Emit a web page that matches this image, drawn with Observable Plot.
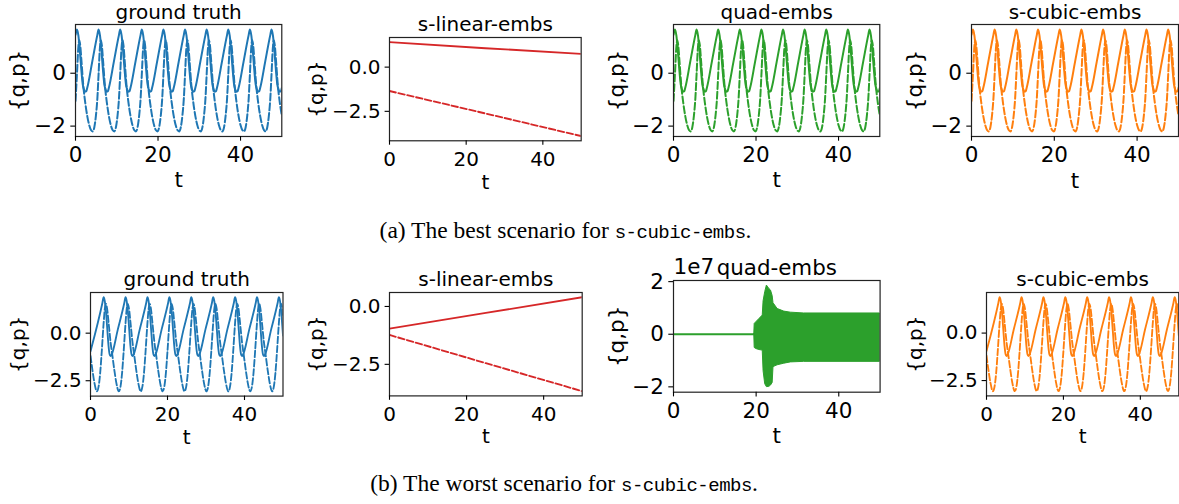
<!DOCTYPE html>
<html><head><meta charset="utf-8">
<script src="https://cdn.jsdelivr.net/npm/d3@7"></script>
<script src="https://cdn.jsdelivr.net/npm/@observablehq/plot@0.6"></script>
<style>
html,body{margin:0;padding:0;background:#fff;overflow:hidden}
#root{position:relative;width:1179px;height:504px;overflow:hidden;background:#fff}
#root svg{position:absolute}
.cap{position:absolute;white-space:nowrap;font-family:"Liberation Serif",serif;font-size:23.5px;line-height:24px;color:#000;transform:translateX(-50%)}
.cap .tt{font-family:"Liberation Mono",monospace;font-size:19px;letter-spacing:-0.5px}
</style></head><body><div id="root"></div>
<script>
// ---------- data ----------
const xTicks = [0, 20, 40];
const yTicksInt = [-2, 0];
const yTicksDec = [-2.5, 0];
const yTicksQuad = [-2, 0, 2];
const titles = ["ground truth", "s-linear-embs", "quad-embs", "s-cubic-embs"];
const quadOffsetLabel = "1e7";

// (a) ground truth q (solid)
const qA_t = [0,
  0.35, 0.70, 1.05, 1.40, 1.75, 2.05, 2.30, 2.60, 2.85, 4.05, 5.30,
  5.59, 5.94, 6.29, 6.64, 6.99, 7.29, 7.54, 7.84, 8.09, 9.29, 10.54,
  10.83, 11.18, 11.53, 11.88, 12.23, 12.53, 12.78, 13.08, 13.33, 14.53, 15.78,
  16.07, 16.42, 16.77, 17.12, 17.47, 17.77, 18.02, 18.32, 18.57, 19.77, 21.02,
  21.31, 21.66, 22.01, 22.36, 22.71, 23.01, 23.26, 23.56, 23.81, 25.01, 26.26,
  26.55, 26.90, 27.25, 27.60, 27.95, 28.25, 28.50, 28.80, 29.05, 30.25, 31.50,
  31.79, 32.14, 32.49, 32.84, 33.19, 33.49, 33.74, 34.04, 34.29, 35.49, 36.74,
  37.03, 37.38, 37.73, 38.08, 38.43, 38.73, 38.98, 39.28, 39.53, 40.73, 41.98,
  42.27, 42.62, 42.97, 43.32, 43.67, 43.97, 44.22, 44.52, 44.77, 45.97, 47.22,
  47.51, 47.86, 48.21, 48.56, 48.91, 49.21, 49.46, 49.76, 50.00];
const qA = [1.45,
  1.65, 1.42, 0.85, 0.15, -0.42, -0.62, -0.70, -0.68, -0.55, 0.43, 1.45,
  1.65, 1.42, 0.85, 0.15, -0.42, -0.62, -0.70, -0.68, -0.55, 0.43, 1.45,
  1.65, 1.42, 0.85, 0.15, -0.42, -0.62, -0.70, -0.68, -0.55, 0.43, 1.45,
  1.65, 1.42, 0.85, 0.15, -0.42, -0.62, -0.70, -0.68, -0.55, 0.43, 1.45,
  1.65, 1.42, 0.85, 0.15, -0.42, -0.62, -0.70, -0.68, -0.55, 0.43, 1.45,
  1.65, 1.42, 0.85, 0.15, -0.42, -0.62, -0.70, -0.68, -0.55, 0.43, 1.45,
  1.65, 1.42, 0.85, 0.15, -0.42, -0.62, -0.70, -0.68, -0.55, 0.43, 1.45,
  1.65, 1.42, 0.85, 0.15, -0.42, -0.62, -0.70, -0.68, -0.55, 0.43, 1.45,
  1.65, 1.42, 0.85, 0.15, -0.42, -0.62, -0.70, -0.68, -0.55, 0.43, 1.45,
  1.65, 1.42, 0.85, 0.15, -0.42, -0.62, -0.70, -0.68, -0.56];

// (a) ground truth p (dashed)
const pA_t = [0,
  0.35, 0.65, 0.90, 1.15, 1.45, 1.85, 2.35, 2.85, 3.35, 3.75, 4.15, 4.55, 4.95, 5.30,
  5.59, 5.89, 6.14, 6.39, 6.69, 7.09, 7.59, 8.09, 8.59, 8.99, 9.39, 9.79, 10.19, 10.54,
  10.83, 11.13, 11.38, 11.63, 11.93, 12.33, 12.83, 13.33, 13.83, 14.23, 14.63, 15.03, 15.43, 15.78,
  16.07, 16.37, 16.62, 16.87, 17.17, 17.57, 18.07, 18.57, 19.07, 19.47, 19.87, 20.27, 20.67, 21.02,
  21.31, 21.61, 21.86, 22.11, 22.41, 22.81, 23.31, 23.81, 24.31, 24.71, 25.11, 25.51, 25.91, 26.26,
  26.55, 26.85, 27.10, 27.35, 27.65, 28.05, 28.55, 29.05, 29.55, 29.95, 30.35, 30.75, 31.15, 31.50,
  31.79, 32.09, 32.34, 32.59, 32.89, 33.29, 33.79, 34.29, 34.79, 35.19, 35.59, 35.99, 36.39, 36.74,
  37.03, 37.33, 37.58, 37.83, 38.13, 38.53, 39.03, 39.53, 40.03, 40.43, 40.83, 41.23, 41.63, 41.98,
  42.27, 42.57, 42.82, 43.07, 43.37, 43.77, 44.27, 44.77, 45.27, 45.67, 46.07, 46.47, 46.87, 47.22,
  47.51, 47.81, 48.06, 48.31, 48.61, 49.01, 49.51, 50.00];
const pA = [-1.05,
  -0.05, 0.90, 1.25, 1.05, 0.45, -0.40, -1.10, -1.62, -1.98, -2.15, -2.20, -2.05, -1.60, -0.95,
  -0.05, 0.90, 1.25, 1.05, 0.45, -0.40, -1.10, -1.62, -1.98, -2.15, -2.20, -2.05, -1.60, -0.95,
  -0.05, 0.90, 1.25, 1.05, 0.45, -0.40, -1.10, -1.62, -1.98, -2.15, -2.20, -2.05, -1.60, -0.95,
  -0.05, 0.90, 1.25, 1.05, 0.45, -0.40, -1.10, -1.62, -1.98, -2.15, -2.20, -2.05, -1.60, -0.95,
  -0.05, 0.90, 1.25, 1.05, 0.45, -0.40, -1.10, -1.62, -1.98, -2.15, -2.20, -2.05, -1.60, -0.95,
  -0.05, 0.90, 1.25, 1.05, 0.45, -0.40, -1.10, -1.62, -1.98, -2.15, -2.20, -2.05, -1.60, -0.95,
  -0.05, 0.90, 1.25, 1.05, 0.45, -0.40, -1.10, -1.62, -1.98, -2.15, -2.20, -2.05, -1.60, -0.95,
  -0.05, 0.90, 1.25, 1.05, 0.45, -0.40, -1.10, -1.62, -1.98, -2.15, -2.20, -2.05, -1.60, -0.95,
  -0.05, 0.90, 1.25, 1.05, 0.45, -0.40, -1.10, -1.62, -1.98, -2.15, -2.20, -2.05, -1.60, -0.95,
  -0.05, 0.90, 1.25, 1.05, 0.45, -0.40, -1.10, -1.60];

// (b) ground truth q (solid)
const qB_t = [0, 3.10,
  3.40, 3.70, 4.05, 4.40, 4.70, 4.95, 5.20, 5.45, 7.10, 8.79,
  9.09, 9.39, 9.74, 10.09, 10.39, 10.64, 10.89, 11.14, 12.79, 14.48,
  14.78, 15.08, 15.43, 15.78, 16.08, 16.33, 16.58, 16.83, 18.48, 20.17,
  20.47, 20.77, 21.12, 21.47, 21.77, 22.02, 22.27, 22.52, 24.17, 25.86,
  26.16, 26.46, 26.81, 27.16, 27.46, 27.71, 27.96, 28.21, 29.86, 31.55,
  31.85, 32.15, 32.50, 32.85, 33.15, 33.40, 33.65, 33.90, 35.55, 37.24,
  37.54, 37.84, 38.19, 38.54, 38.84, 39.09, 39.34, 39.59, 41.24, 42.93,
  43.23, 43.53, 43.88, 44.23, 44.53, 44.78, 45.03, 45.28, 46.93, 48.62,
  48.92, 49.22, 49.57, 49.92, 50.00];
const qB = [-0.95, 1.60,
  1.89, 1.70, 1.05, 0.10, -0.70, -1.10, -1.21, -1.15, 0.20, 1.60,
  1.89, 1.70, 1.05, 0.10, -0.70, -1.10, -1.21, -1.15, 0.20, 1.60,
  1.89, 1.70, 1.05, 0.10, -0.70, -1.10, -1.21, -1.15, 0.20, 1.60,
  1.89, 1.70, 1.05, 0.10, -0.70, -1.10, -1.21, -1.15, 0.20, 1.60,
  1.89, 1.70, 1.05, 0.10, -0.70, -1.10, -1.21, -1.15, 0.20, 1.60,
  1.89, 1.70, 1.05, 0.10, -0.70, -1.10, -1.21, -1.15, 0.20, 1.60,
  1.89, 1.70, 1.05, 0.10, -0.70, -1.10, -1.21, -1.15, 0.20, 1.60,
  1.89, 1.70, 1.05, 0.10, -0.70, -1.10, -1.21, -1.15, 0.20, 1.60,
  1.89, 1.70, 1.05, 0.10, -0.12];

// (b) ground truth p (dashed)
const pB_t = [0, 0.51, 1.01, 1.66, 2.11, 2.51, 2.91,
  3.40, 3.70, 4.00, 4.30, 4.70, 5.20, 5.70, 6.20, 6.70, 7.35, 7.80, 8.20, 8.60,
  9.09, 9.39, 9.69, 9.99, 10.39, 10.89, 11.39, 11.89, 12.39, 13.04, 13.49, 13.89, 14.29,
  14.78, 15.08, 15.38, 15.68, 16.08, 16.58, 17.08, 17.58, 18.08, 18.73, 19.18, 19.58, 19.98,
  20.47, 20.77, 21.07, 21.37, 21.77, 22.27, 22.77, 23.27, 23.77, 24.42, 24.87, 25.27, 25.67,
  26.16, 26.46, 26.76, 27.06, 27.46, 27.96, 28.46, 28.96, 29.46, 30.11, 30.56, 30.96, 31.36,
  31.85, 32.15, 32.45, 32.75, 33.15, 33.65, 34.15, 34.65, 35.15, 35.80, 36.25, 36.65, 37.05,
  37.54, 37.84, 38.14, 38.44, 38.84, 39.34, 39.84, 40.34, 40.84, 41.49, 41.94, 42.34, 42.74,
  43.23, 43.53, 43.83, 44.13, 44.53, 45.03, 45.53, 46.03, 46.53, 47.18, 47.63, 48.03, 48.43,
  48.92, 49.22, 49.52, 49.82, 50.00];
const pB = [-1.19, -1.95, -2.60, -3.06, -2.80, -2.10, -1.00,
  0.50, 1.25, 1.54, 1.30, 0.55, -0.45, -1.20, -1.95, -2.60, -3.06, -2.80, -2.10, -1.00,
  0.50, 1.25, 1.54, 1.30, 0.55, -0.45, -1.20, -1.95, -2.60, -3.06, -2.80, -2.10, -1.00,
  0.50, 1.25, 1.54, 1.30, 0.55, -0.45, -1.20, -1.95, -2.60, -3.06, -2.80, -2.10, -1.00,
  0.50, 1.25, 1.54, 1.30, 0.55, -0.45, -1.20, -1.95, -2.60, -3.06, -2.80, -2.10, -1.00,
  0.50, 1.25, 1.54, 1.30, 0.55, -0.45, -1.20, -1.95, -2.60, -3.06, -2.80, -2.10, -1.00,
  0.50, 1.25, 1.54, 1.30, 0.55, -0.45, -1.20, -1.95, -2.60, -3.06, -2.80, -2.10, -1.00,
  0.50, 1.25, 1.54, 1.30, 0.55, -0.45, -1.20, -1.95, -2.60, -3.06, -2.80, -2.10, -1.00,
  0.50, 1.25, 1.54, 1.30, 0.55, -0.45, -1.20, -1.95, -2.60, -3.06, -2.80, -2.10, -1.00,
  0.50, 1.25, 1.54, 1.30, 0.96];

// s-linear-embs predictions
const linA_t = [0, 25, 50];
const linA_q = [1.41, 1.07, 0.75];
const linA_p = [-1.35, -2.62, -3.90];
const linB_t = [0, 25, 50];
const linB_q = [-0.96, -0.28, 0.40];
const linB_p = [-1.23, -2.45, -3.66];

// quad-embs prediction (b), values in units of 1e7
const quadFlat_t = [0, 19.6];
const quadFlat = [0, 0];
const quadBand_t = [19.55, 19.65, 20.0, 20.8, 21.6, 21.8, 22.2, 22.6, 23.2, 23.6, 24.0, 24.2, 25.2, 26.8, 28.4, 31.6, 50];
const quadHi = [0.0, 0.39, 0.45, 0.58, 0.71, 1.25, 1.60, 1.85, 1.72, 1.66, 1.45, 1.18, 0.96, 0.86, 0.82, 0.79, 0.79];
const quadLo = [0.0, -0.52, -0.56, -0.60, -0.62, -1.40, -1.90, -2.01, -2.00, -1.95, -1.85, -1.25, -1.18, -1.12, -1.07, -1.05, -1.05];

// ---------- drawing ----------
const C = {blue: "#1f77b4", red: "#d62728", green: "#2ca02c", orange: "#ff7f0e"};
const root = document.getElementById("root");

function padded(arrs) {
  const all = arrs.flat();
  const lo = d3.min(all), hi = d3.max(all), m = (hi - lo) * 0.05;
  return [lo - m, hi + m];
}

function panel(cfg) {
  const [x0, x1, y0, y1] = cfg.box;
  const big = cfg.big;
  const fs = big ? 21.5 : 20;
  const titleFs = cfg.titleFs || 20;
  const ml = 100, mr = 14, mt = 42, mb = 64;
  const sw = big ? 2 : 1.85;
  const dash = big ? "7,2.8" : "6.5,2.6";
  const ts = big ? 4.7 : 4.4;
  const marks = [];
  for (const s of cfg.series) {
    marks.push(Plot.lineY(s.y, {x: s.t, stroke: s.c, strokeWidth: sw, curve: s.curve || "monotone-x", clip: true,
      ...(s.dash ? {strokeDasharray: dash} : {})}));
  }
  if (cfg.band) {
    marks.push(Plot.areaY(cfg.band.hi, {x: cfg.band.t, y1: cfg.band.lo, y2: cfg.band.hi, fill: cfg.band.c, stroke: cfg.band.c, strokeWidth: 1, clip: true}));
  }
  marks.push(
    Plot.frame({stroke: "#222", strokeWidth: 1.2}),
    Plot.axisX({ticks: xTicks, tickSize: ts, tickPadding: big ? 5.7 : 6.2, tickFormat: d3.format("d"), label: null, strokeWidth: 1.1}),
    Plot.axisY({ticks: cfg.yTicks, tickSize: ts, tickPadding: big ? 4.9 : 4.5, tickFormat: d3.format(cfg.yFmt), label: null, strokeWidth: 1.1}),
    Plot.text([cfg.title], {text: d => d, frameAnchor: "top", lineAnchor: "bottom", fontSize: titleFs, dy: big ? -5.6 : -6.2}),
    Plot.text(["t"], {text: d => d, frameAnchor: "bottom", lineAnchor: "bottom", dy: cfg.tdy}),
    Plot.text(["{q,p}"], {text: d => d, frameAnchor: "left", rotate: -90, textAnchor: "middle", lineAnchor: "middle", dx: -cfg.ylab})
  );
  if (cfg.offsetText) {
    marks.push(Plot.text([cfg.offsetText], {text: d => d, frameAnchor: "top-left", textAnchor: "start", lineAnchor: "bottom", dy: -6.2}));
  }
  const yAll = cfg.series.map(s => s.y).concat(cfg.band ? [cfg.band.hi, cfg.band.lo] : []);
  const svg = Plot.plot({
    width: (x1 - x0) + ml + mr,
    height: (y1 - y0) + mt + mb,
    marginLeft: ml, marginRight: mr, marginTop: mt, marginBottom: mb,
    x: {domain: [0, 50]},
    y: {domain: padded(yAll)},
    style: {fontFamily: "'DejaVu Sans', sans-serif", fontSize: fs + "px", background: "transparent", overflow: "visible", color: "#000"},
    marks
  });
  svg.style.position = "absolute";
  svg.style.left = (x0 - ml) + "px";
  svg.style.top = (y0 - mt) + "px";
  svg.style.maxWidth = "none";
  root.appendChild(svg);
}

const panels = [
  {box: [75.3, 281.6, 24.3, 136.3], big: true, title: titles[0], yTicks: yTicksInt, yFmt: "d", ylab: 57, tdy: 50.4,
   series: [{t: qA_t, y: qA, c: C.blue}, {t: pA_t, y: pA, c: C.blue, dash: true}]},
  {box: [389, 580.7, 36.7, 140], big: false, title: titles[1], yTicks: yTicksDec, yFmt: ".1f", ylab: 73, tdy: 48.3,
   series: [{t: linA_t, y: linA_q, c: C.red, curve: "linear"}, {t: linA_t, y: linA_p, c: C.red, dash: true, curve: "linear"}]},
  {box: [672.7, 879.0, 24.3, 136.3], big: true, title: titles[2], yTicks: yTicksInt, yFmt: "d", ylab: 56.4, tdy: 51,
   series: [{t: qA_t, y: qA, c: C.green}, {t: pA_t, y: pA, c: C.green, dash: true}]},
  {box: [971.3, 1178.3, 24.3, 136.3], big: true, title: titles[3], yTicks: yTicksInt, yFmt: "d", ylab: 56.3, tdy: 51,
   series: [{t: qA_t, y: qA, c: C.orange}, {t: pA_t, y: pA, c: C.orange, dash: true}]},
  {box: [89.8, 282.3, 292, 395.6], big: false, title: titles[0], yTicks: yTicksDec, yFmt: ".1f", ylab: 71.5, tdy: 47.8,
   series: [{t: qB_t, y: qB, c: C.blue}, {t: pB_t, y: pB, c: C.blue, dash: true}]},
  {box: [389, 581.7, 292.3, 395.7], big: false, title: titles[1], yTicks: yTicksDec, yFmt: ".1f", ylab: 72.7, tdy: 47.6,
   series: [{t: linB_t, y: linB_q, c: C.red, curve: "linear"}, {t: linB_t, y: linB_p, c: C.red, dash: true, curve: "linear"}]},
  {box: [672.7, 879.3, 280, 391.7], big: true, titleFs: 21.4, title: titles[2], yTicks: yTicksQuad, yFmt: "d", ylab: 56, tdy: 51, offsetText: quadOffsetLabel,
   series: [{t: quadFlat_t, y: quadFlat, c: C.green, curve: "linear"}],
   band: {t: quadBand_t, hi: quadHi, lo: quadLo, c: C.green}},
  {box: [986, 1178.3, 292.3, 395.7], big: false, title: titles[3], yTicks: yTicksDec, yFmt: ".1f", ylab: 71, tdy: 47.6,
   series: [{t: qB_t, y: qB, c: C.orange}, {t: pB_t, y: pB, c: C.orange, dash: true}]}
];
panels.forEach(panel);

function caption(text1, tt, centerX, top) {
  const d = document.createElement("div");
  d.className = "cap";
  d.style.left = centerX + "px";
  d.style.top = top + "px";
  d.appendChild(document.createTextNode(text1));
  const s = document.createElement("span");
  s.className = "tt";
  s.textContent = tt;
  d.appendChild(s);
  d.appendChild(document.createTextNode("."));
  root.appendChild(d);
}
caption("(a) The best scenario for ", "s-cubic-embs", 565.5, 218);
caption("(b) The worst scenario for ", "s-cubic-embs", 564, 470.7);
</script></body></html>
